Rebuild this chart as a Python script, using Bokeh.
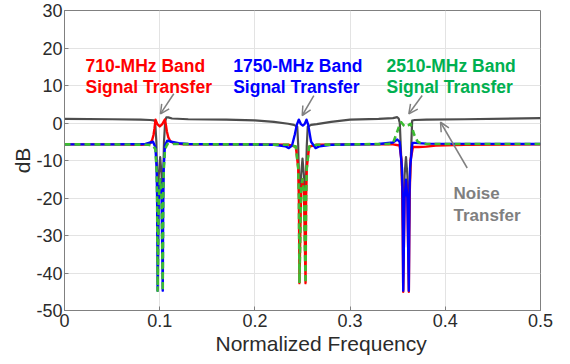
from bokeh.plotting import figure
from bokeh.models import Range1d, FixedTicker, Arrow, OpenHead, Label, Title
from bokeh.embed import file_html
from bokeh.resources import INLINE

# ---------------- data ----------------
x_ticks = [0, 0.1, 0.2, 0.3, 0.4, 0.5]
x_tick_labels = ["0", "0.1", "0.2", "0.3", "0.4", "0.5"]
y_ticks = [-50, -40, -30, -20, -10, 0, 10, 20, 30]
y_tick_labels = ["-50", "-40", "-30", "-20", "-10", "0", "10", "20", "30"]
x_title = "Normalized Frequency"
y_title = "dB"

noise_f = [0, 0.05, 0.08, 0.09, 0.094, 0.0952, 0.0965, 0.0972, 0.0978, 0.099, 0.1005,
           0.102, 0.1032, 0.1038, 0.1045, 0.1058, 0.107, 0.109, 0.113, 0.13, 0.17, 0.2,
           0.22, 0.235, 0.241, 0.2445, 0.2455, 0.2462, 0.2468, 0.2485, 0.25, 0.2515,
           0.2532, 0.2538, 0.2545, 0.2555, 0.259, 0.265, 0.28, 0.3, 0.33, 0.345, 0.3495,
           0.351, 0.3522, 0.3535, 0.3545, 0.3558, 0.3572, 0.3587, 0.3602, 0.3617, 0.3628,
           0.364, 0.3652, 0.368, 0.38, 0.42, 0.5]
noise_db = [1.1, 1.0, 0.9, 0.8, 0.7, 0.3, -5, -14, -30, -14, -9.1,
            -14, -30, -14, -5, 0.5, 1.5, 1.5, 1.2, 1.0, 0.9, 0.7,
            0.3, -0.2, -0.5, -1, -6, -14, -30, -14, -9.5, -14,
            -30, -14, -6, -1, -0.5, -0.3, 0.3, 0.9, 1.1, 1.3, 1.55,
            1.2, 0, -8, -16, -30, -14, -9.1, -14, -30, -16,
            -8, 0.67, 0.8, 0.9, 1.0, 1.3]

sig710_f = [0, 0.05, 0.08, 0.087, 0.09, 0.092, 0.0935, 0.0945, 0.0956, 0.0975, 0.1001,
            0.1027, 0.1054, 0.1065, 0.1075, 0.109, 0.111, 0.115, 0.125, 0.15, 0.2, 0.235,
            0.243, 0.2455, 0.2462, 0.2468, 0.2485, 0.25, 0.2515, 0.2532, 0.2538, 0.2545,
            0.257, 0.265, 0.3, 0.345, 0.352, 0.354, 0.355, 0.3558, 0.3572, 0.3587, 0.3602,
            0.3617, 0.3625, 0.3635, 0.366, 0.372, 0.38, 0.39, 0.42, 0.5]
sig710_db = [-5.7, -5.7, -5.8, -5.7, -5.4, -4.6, -3.2, -1.5, 0.9, -0.3, -0.9,
             -0.3, 0.9, -0.5, -2.2, -3.8, -4.8, -5.4, -5.7, -5.7, -5.7, -5.8,
             -6.3, -12, -20, -42.7, -18, -15, -18, -42.7, -20, -12,
             -6.3, -5.8, -5.7, -5.7, -6, -10, -20, -45, -20, -15.5, -20,
             -45, -20, -10, -6.4, -6.4, -6.3, -6.0, -5.8, -5.7]

sig1750_f = [0, 0.05, 0.085, 0.093, 0.0955, 0.0968, 0.0973, 0.0978, 0.099, 0.1005, 0.102,
             0.1032, 0.1037, 0.1042, 0.1055, 0.108, 0.112, 0.12, 0.13, 0.18, 0.22, 0.232,
             0.2356, 0.239, 0.242, 0.244, 0.2461, 0.2483, 0.2503, 0.2522, 0.2542, 0.256,
             0.259, 0.2637, 0.268, 0.28, 0.33, 0.345, 0.3495, 0.352, 0.3545, 0.3552, 0.3558,
             0.3572, 0.3587, 0.3602, 0.3617, 0.3623, 0.363, 0.3655, 0.368, 0.38, 0.5]
sig1750_db = [-5.7, -5.7, -5.6, -5.0, -6.5, -12, -20, -44.7, -20, -15, -20,
              -44.7, -20, -12, -6, -4.7, -5, -5.4, -5.6, -5.7, -5.8, -6.2,
              -6.7, -6.0, -3, -0.5, 0.9, -0.3, -0.7, -0.3, 0.9, -0.5,
              -5, -6.7, -6.2, -5.8, -5.6, -5.2, -4.4, -5, -12, -20, -44.7,
              -20, -15.1, -20, -44.7, -20, -12, -5.3, -5.3, -5.5, -5.6]

sig2510_f = [0, 0.05, 0.088, 0.093, 0.0955, 0.0968, 0.0973, 0.0978, 0.099, 0.1005, 0.102,
             0.1032, 0.1037, 0.1042, 0.1055, 0.108, 0.115, 0.15, 0.2, 0.235, 0.243, 0.2455,
             0.2462, 0.2468, 0.2485, 0.25, 0.2515, 0.2532, 0.2538, 0.2545, 0.257, 0.265, 0.3,
             0.34, 0.345, 0.3487, 0.3512, 0.3537, 0.3562, 0.3587, 0.3612, 0.3634, 0.3659,
             0.3676, 0.371, 0.376, 0.5]
sig2510_db = [-5.7, -5.7, -5.8, -6.0, -7, -13, -20, -44.7, -20, -15, -20,
              -44.7, -20, -13, -7, -5.6, -5.6, -5.7, -5.7, -5.8, -6.3, -12,
              -20, -42.7, -18, -15, -18, -42.7, -20, -12, -6.3, -5.8, -5.7,
              -5.6, -5.4, -2.9, -1.1, 0.2, -0.6, -1, -0.6, -0.2, -2,
              -3.3, -5.0, -5.6, -5.6]

# annotation texts: (text, x, y of baseline, colour)
band_labels = [
    ("710-MHz Band", 0.0221, 15.07, "#ff0000"),
    ("Signal Transfer", 0.0221, 9.55, "#ff0000"),
    ("1750-MHz Band", 0.1772, 15.07, "#0000ff"),
    ("Signal Transfer", 0.1772, 9.55, "#0000ff"),
    ("2510-MHz Band", 0.3382, 15.07, "#00b050"),
    ("Signal Transfer", 0.3382, 9.55, "#00b050"),
    ("Noise", 0.4086, -18.9, "#7f7f7f"),
    ("Transfer", 0.4086, -24.7, "#7f7f7f"),
]
# arrows: x_start, y_start, x_end, y_end
arrow_x0 = [0.1148, 0.2619, 0.3757, 0.4230]
arrow_y0 = [7.79, 7.33, 7.33, -12.0]
arrow_x1 = [0.1008, 0.2497, 0.3617, 0.3950]
arrow_y1 = [2.45, 2.0, 2.45, 0.2]

# ---------------- figure ----------------
FONT = "Liberation Sans"
p = figure(width=570, height=362, output_backend="svg", toolbar_location=None,
           x_range=Range1d(0, 0.5), y_range=Range1d(-50, 30),
           min_border_left=64, min_border_right=30, min_border_top=10, min_border_bottom=52)
p.background_fill_color = "white"
p.border_fill_color = "white"
p.outline_line_color = "#808080"
p.outline_line_width = 1

p.xgrid.ticker = FixedTicker(ticks=x_ticks)
p.ygrid.ticker = FixedTicker(ticks=y_ticks)
p.xgrid.grid_line_color = "#e3e3e3"
p.ygrid.grid_line_color = "#e3e3e3"

xa = p.xaxis[0]
ya = p.yaxis[0]
xa.ticker = FixedTicker(ticks=x_ticks)
ya.ticker = FixedTicker(ticks=y_ticks)
xa.major_label_overrides = {t: l for t, l in zip(x_ticks, x_tick_labels)}
ya.major_label_overrides = {t: l for t, l in zip(y_ticks, y_tick_labels)}
for ax in (xa, ya):
    ax.axis_line_color = "#808080"
    ax.major_tick_line_color = "#808080"
    ax.major_tick_in = 4
    ax.major_tick_out = 0
    ax.minor_tick_line_color = None
    ax.major_label_text_font = FONT
    ax.major_label_text_font_size = "18px"
    ax.major_label_text_color = "#2b2b2b"
xa.major_label_standoff = 3
ya.major_label_standoff = 2

p.line(noise_f, noise_db, line_color="#4d4d4d", line_width=2.2, line_join="round")
p.line(sig710_f, sig710_db, line_color="#ff0000", line_width=2.4, line_join="round")
p.line(sig1750_f, sig1750_db, line_color="#0000ff", line_width=2.4, line_join="round")
p.line(sig2510_f, sig2510_db, line_color="#3cbc32", line_width=2.6, line_dash="6 4",
       line_join="round")

for x0, y0, x1, y1 in zip(arrow_x0, arrow_y0, arrow_x1, arrow_y1):
    p.add_layout(Arrow(end=OpenHead(size=9, line_color="#808080", line_width=1.5),
                       x_start=x0, y_start=y0, x_end=x1, y_end=y1,
                       line_color="#808080", line_width=1.5))

for txt, x, y, c in band_labels:
    p.add_layout(Label(x=x, y=y, text=txt, text_font=FONT,
                       text_font_size="17.5px" if c != "#7f7f7f" else "17px",
                       text_font_style="bold", text_color=c, text_baseline="alphabetic",
                       text_align="left"))

# axis titles, offset as in the reference
p.add_layout(Title(text=x_title, align="left", offset=151, standoff=0,
                   text_font=FONT, text_font_size="21px", text_font_style="normal",
                   text_color="#2b2b2b"), "below")
p.add_layout(Title(text=y_title, align="center", offset=6, standoff=0,
                   text_font=FONT, text_font_size="21px", text_font_style="normal",
                   text_color="#2b2b2b"), "left")

open("out.html", "w").write(file_html(p, INLINE))
